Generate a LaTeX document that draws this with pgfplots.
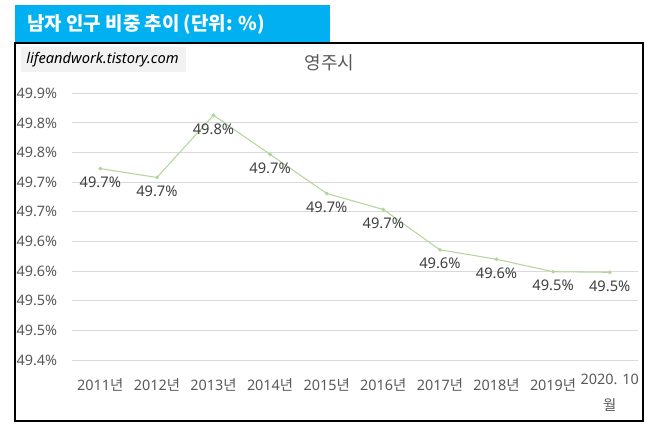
\documentclass[border=0pt]{standalone}
\usepackage{fontspec}
\setmainfont{Noto Sans}
\newfontfamily\kr{Noto Sans CJK KR}
\usepackage{pgfplots}
\pgfplotsset{compat=1.18}
\definecolor{banner}{HTML}{00B0F0}
\definecolor{wm}{HTML}{F2F2F2}
\definecolor{txt}{HTML}{595959}
\definecolor{lbl}{HTML}{404040}
\definecolor{gridc}{HTML}{D9D9D9}
\definecolor{linec}{HTML}{B4D69C}
\begin{document}
\begin{tikzpicture}[x=0.75pt,y=0.75pt]
\path (0,0) rectangle (652,430);
\fill[banner] (15,387) rectangle (330,425);
\node[anchor=west,text=white,font=\kr\bfseries\fontsize{14.2pt}{16pt}\selectfont,inner sep=0pt] at (27,406) {남자 인구 비중 추이 (단위: \%)};
\draw[black,line width=1pt] (15,9) rectangle (643,387);
\fill[wm] (21,358) rectangle (186,383);
\node[font=\itshape\fontsize{11pt}{12pt}\selectfont,text=black,inner sep=0pt] at (102.5,370.5) {lifeandwork.tistory.com};
\node[font=\kr\fontsize{13.5pt}{15pt}\selectfont,text=txt,inner sep=0pt] at (329.5,367.5) {영주시};
\begin{axis}[
  at={(54pt,52.5pt)}, anchor=south west,
  scale only axis, width=424.5pt, height=200pt,
  xmin=-0.5, xmax=9.5, ymin=49.4, ymax=49.85,
  axis line style={draw=none}, tick style={draw=none},
  ymajorgrids, grid style={gridc, line width=0.75pt},
  ytick={49.4,49.45,49.5,49.55,49.6,49.65,49.7,49.75,49.8,49.85},
  yticklabels={49.4\%,49.5\%,49.5\%,49.6\%,49.6\%,49.7\%,49.7\%,49.8\%,49.8\%,49.9\%},
  yticklabel style={anchor=east, inner sep=0pt, xshift=-11pt, text=txt, font=\fontsize{10.8pt}{12pt}\selectfont},
  xtick={0,...,9},
  xticklabels={2011{\kr 년},2012{\kr 년},2013{\kr 년},2014{\kr 년},2015{\kr 년},2016{\kr 년},2017{\kr 년},2018{\kr 년},2019{\kr 년},{\raisebox{0pt}[4.5pt][0pt]{2020. 10}\\[-2pt]{\kr 월}}},
  xticklabel style={anchor=north, inner sep=0pt, yshift=-14pt, align=center, text=txt, font=\fontsize{10.8pt}{21pt}\selectfont},
  /pgf/number format/assume math mode=true,
  nodes near coords={\pgfmathprintnumber[fixed,fixed zerofill,precision=1]{\pgfplotspointmeta}\%},
  every node near coord/.style={anchor=center, yshift=-10.5pt, text=lbl, font=\fontsize{11pt}{12pt}\selectfont, inner sep=0pt},
  clip=false,
]
\addplot[linec, line width=0.8pt, mark=*, mark size=1pt, mark options={fill=linec, draw=linec}] coordinates {
(0,49.723) (1,49.708) (2,49.813) (3,49.747) (4,49.681) (5,49.654) (6,49.586) (7,49.570) (8,49.549) (9,49.548)
};
\end{axis}
\end{tikzpicture}
\end{document}
